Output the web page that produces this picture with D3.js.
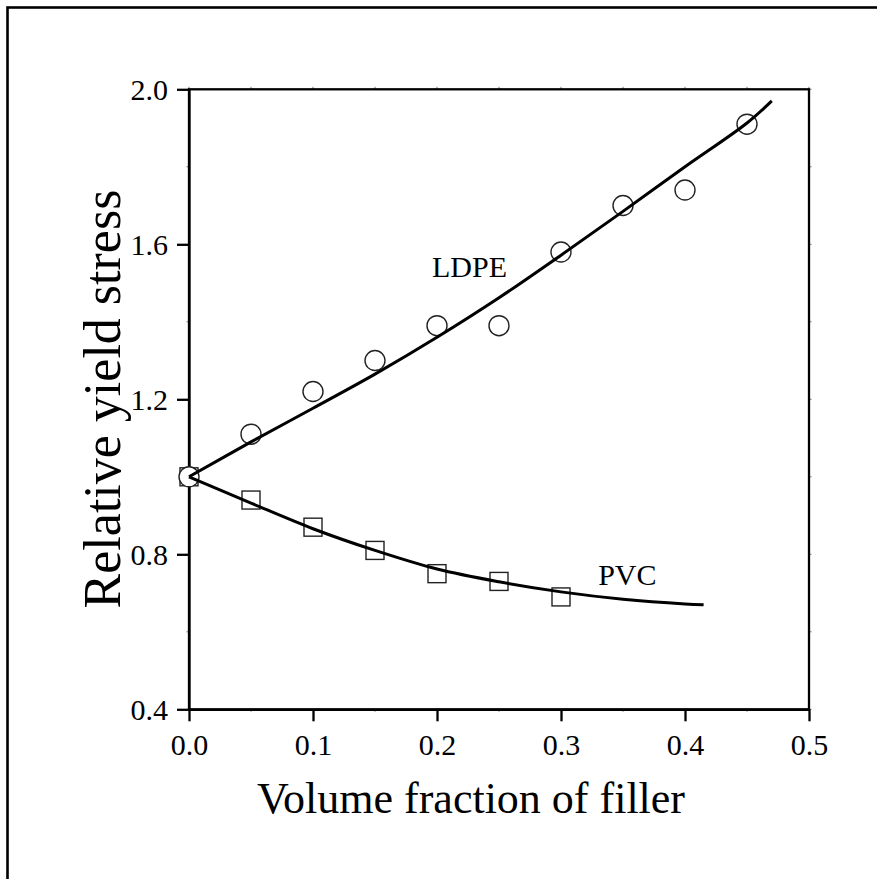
<!DOCTYPE html>
<html>
<head>
<meta charset="utf-8">
<script src="https://cdn.jsdelivr.net/npm/d3@7"></script>
<style>
  html, body { margin: 0; padding: 0; background: #fff; }
  svg { display: block; }
  text { font-family: "Liberation Serif", "Times New Roman", serif; fill: #000; }
</style>
</head>
<body>
<script>
// ---- data ----
const ldpeX = [0, 0.05, 0.10, 0.15, 0.20, 0.25, 0.30, 0.35, 0.40, 0.45];
const ldpeY = [1.00, 1.11, 1.22, 1.30, 1.39, 1.39, 1.58, 1.70, 1.74, 1.91];
const pvcX = [0, 0.05, 0.10, 0.15, 0.20, 0.25, 0.30];
const pvcY = [1.00, 0.94, 0.87, 0.81, 0.75, 0.73, 0.69];
// fitted curves
const ldpeFitX = [0, 0.05, 0.10, 0.15, 0.20, 0.25, 0.30, 0.35, 0.40, 0.45, 0.47];
const ldpeFitY = [1.00, 1.09, 1.177, 1.265, 1.360, 1.462, 1.572, 1.685, 1.800, 1.913, 1.970];
const pvcFitX = [0, 0.05, 0.10, 0.15, 0.20, 0.25, 0.30, 0.35, 0.40, 0.415];
const pvcFitY = [1.00, 0.932, 0.866, 0.810, 0.762, 0.729, 0.703, 0.684, 0.672, 0.670];
const xTicks = [0, 0.1, 0.2, 0.3, 0.4, 0.5];
const xTickLabels = ["0.0", "0.1", "0.2", "0.3", "0.4", "0.5"];
const yTicks = [0.4, 0.8, 1.2, 1.6, 2.0];
const yTickLabels = ["0.4", "0.8", "1.2", "1.6", "2.0"];
const xMinor = [0.05, 0.15, 0.25, 0.35, 0.45];
const yMinor = [0.6, 1.0, 1.4, 1.8];
const xTitle = "Volume fraction of filler";
const yTitle = "Relative yield stress";
const seriesLabels = [{name: "LDPE", x: 0.196, y: 1.515}, {name: "PVC", x: 0.330, y: 0.722}];

// ---- layout ----
const W = 877, H = 879;
const svg = d3.select("body").append("svg").attr("width", W).attr("height", H);

svg.append("rect").attr("x", 7.5).attr("y", 7.5).attr("width", 1000).attr("height", 1000)
  .attr("fill", "none").attr("stroke", "#000").attr("stroke-width", 2.6);

const x = d3.scaleLinear().domain([0, 0.5]).range([189, 809]);
const y = d3.scaleLinear().domain([0.4, 2.0]).range([709.3, 89.3]);

// minor ticks (tiny, top/right/bottom/left)
const minor = svg.append("g").attr("stroke", "#777").attr("stroke-width", 1);
xMinor.concat(xTicks).forEach(v => {
  minor.append("line").attr("x1", x(v)).attr("x2", x(v)).attr("y1", y(2.0)).attr("y2", y(2.0) - 2.5);
});
xMinor.forEach(v => {
  minor.append("line").attr("x1", x(v)).attr("x2", x(v)).attr("y1", y(0.4)).attr("y2", y(0.4) + 2.5);
});
yMinor.concat(yTicks).forEach(v => {
  minor.append("line").attr("x1", x(0.5)).attr("x2", x(0.5) + 2.5).attr("y1", y(v)).attr("y2", y(v));
});
yMinor.forEach(v => {
  minor.append("line").attr("x1", x(0)).attr("x2", x(0) - 2.5).attr("y1", y(v)).attr("y2", y(v));
});

// frame of plot
const ax = svg.append("g").attr("stroke", "#000").attr("stroke-width", 2.3).attr("fill", "none");
ax.append("rect").attr("x", x(0)).attr("y", y(2.0)).attr("width", x(0.5) - x(0)).attr("height", y(0.4) - y(2.0));

// axes via d3 axes
const xAxis = d3.axisBottom(x).tickValues(xTicks).tickFormat((d, i) => xTickLabels[i]).tickSize(12).tickSizeOuter(0).tickPadding(10);
const gx = svg.append("g").attr("transform", `translate(0,${y(0.4)})`).call(xAxis);
gx.select(".domain").attr("stroke-width", 2.3);
gx.selectAll(".tick line").attr("stroke-width", 2.3);
gx.selectAll(".tick text").attr("font-size", 30).attr("font-family", "Liberation Serif").attr("dy", "0.71em").attr("y", 24);

const yAxis = d3.axisLeft(y).tickValues(yTicks).tickFormat((d, i) => yTickLabels[i]).tickSize(12).tickSizeOuter(0).tickPadding(10);
const gy = svg.append("g").attr("transform", `translate(${x(0)},0)`).call(yAxis);
gy.select(".domain").attr("stroke-width", 2.3);
gy.selectAll(".tick line").attr("stroke-width", 2.3);
gy.selectAll(".tick text").attr("font-size", 30).attr("font-family", "Liberation Serif").attr("x", -21).attr("dy", "0.34em");

// markers
const mk = svg.append("g").attr("fill", "#fff").attr("stroke", "#222").attr("stroke-width", 1.4);
pvcX.forEach((v, i) => {
  mk.append("rect").attr("x", x(v) - 9).attr("y", y(pvcY[i]) - 9).attr("width", 18).attr("height", 18);
});
ldpeX.forEach((v, i) => {
  mk.append("circle").attr("cx", x(v)).attr("cy", y(ldpeY[i])).attr("r", 10);
});

// fitted curves
const line = d3.line().x(d => x(d[0])).y(d => y(d[1])).curve(d3.curveCatmullRom.alpha(0.5));
svg.append("path").datum(ldpeFitX.map((v, i) => [v, ldpeFitY[i]])).attr("d", line)
  .attr("fill", "none").attr("stroke", "#000").attr("stroke-width", 3);
svg.append("path").datum(pvcFitX.map((v, i) => [v, pvcFitY[i]])).attr("d", line)
  .attr("fill", "none").attr("stroke", "#000").attr("stroke-width", 3);

// series labels
seriesLabels.forEach(s => {
  svg.append("text").attr("x", x(s.x)).attr("y", y(s.y)).attr("font-size", 30).text(s.name);
});

// titles
svg.append("text").attr("x", 471).attr("y", 813).attr("text-anchor", "middle").attr("font-size", 44).text(xTitle);
svg.append("text").attr("transform", `translate(120,399) rotate(-90)`).attr("text-anchor", "middle").attr("font-size", 52).text(yTitle);
</script>
</body>
</html>
